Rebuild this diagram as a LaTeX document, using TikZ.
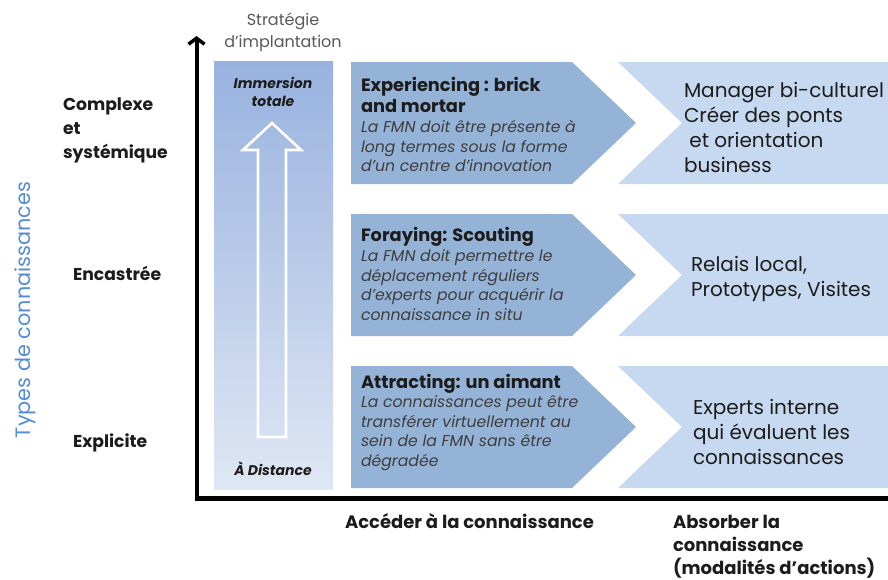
\documentclass[tikz,border=0pt]{standalone}
\usepackage{fontspec}
\setmainfont{Poppins}
\usetikzlibrary{arrows.meta}
\definecolor{midblue}{RGB}{149,179,215}
\definecolor{lightblue}{RGB}{198,217,240}
\definecolor{coltop}{RGB}{152,178,223}
\definecolor{colbot}{RGB}{223,231,244}
\definecolor{typeblue}{RGB}{84,141,212}
\definecolor{txtdark}{RGB}{28,28,28}
\definecolor{txtgrey}{RGB}{62,62,62}
\definecolor{stratgrey}{RGB}{88,88,88}
\begin{document}
\begin{tikzpicture}[x=1pt,y=-1pt,
  every node/.style={inner sep=0pt, outer sep=0pt},
  rowlbl/.style={anchor=north west, align=left, text=txtdark, font=\fontsize{17.2}{24}\selectfont\bfseries},
  boxtitle/.style={anchor=north west, align=left, text=txtdark, font=\fontsize{17.8}{20.5}\selectfont\bfseries},
  boxdesc/.style={anchor=north west, align=left, text=txtgrey, font=\fontsize{15.7}{19.5}\selectfont\itshape},
  righttxt/.style={anchor=north west, align=left, text=txtdark, font=\fontsize{20}{24.8}\selectfont},
  axislbl/.style={anchor=north west, align=left, text=txtdark, font=\fontsize{18}{23}\selectfont\bfseries},
  colin/.style={anchor=north, align=center, text=txtdark, font=\fontsize{14}{18}\selectfont\bfseries\itshape},
  midshape/.style={fill=midblue},
  rightshape/.style={fill=lightblue}
]
\useasboundingbox (0,0) rectangle (888,579);

% left column with gradient
\shade[top color=coltop, bottom color=colbot] (214,61) rectangle (333,489);
% hollow up arrow
\draw[white, line width=2.6pt, line join=miter]
  (258,437) -- (258,150) -- (243,150) -- (272,123) -- (301,150) -- (286,150) -- (286,437) -- cycle;
\node[colin] (imm) at (273,76) {\strut Immersion\\totale};
\node[colin] (dist) at (273,461.4) {\strut À Distance};

% strategy label
\node[anchor=north, align=center, text=stratgrey, font=\fontsize{16}{22}\selectfont] (strat) at (283,9.6) {\strut Stratégie\\d’implantation};

% middle and right shapes
\foreach \t/\m/\b in {62/123/184, 214/275/336, 366/427/488}{
  \fill[midshape] (351,\t) -- (572,\t) -- (636,\m) -- (572,\b) -- (351,\b) -- cycle;
  \fill[rightshape] (618,\t) -- (888,\t) -- (888,\b) -- (618,\b) -- (682,\m) -- cycle;
}

% middle texts
\node[boxtitle] (t1) at (361,77.6) {\strut Experiencing : brick\\and mortar};
\node[boxdesc] (d1) at (361,119.3) {\strut La FMN doit être présente à\\long termes sous la forme\\d’un centre d’innovation};
\node[boxtitle] (t2) at (361,227.6) {\strut Foraying: Scouting};
\node[boxdesc] (d2) at (361,248.3) {\strut La FMN doit permettre le\\déplacement réguliers\\d’experts pour acquérir la\\connaissance in situ};
\node[boxtitle] (t3) at (361,374.6) {\strut Attracting: un aimant};
\node[boxdesc] (d3) at (361,394.3) {\strut La connaissances peut être\\transférer virtuellement au\\sein de la FMN sans être\\dégradée};

% right texts
\node[righttxt] (r1) at (684,80.6) {\strut Manager bi-culturel\\Créer des ponts\\\ et orientation\\business};
\node[righttxt] (r2) at (691,254.6) {\strut Relais local,\\Prototypes, Visites};
\node[righttxt] (r3) at (693,397.6) {\strut Experts interne\\qui évaluent les\\connaissances};

% left labels
\node[rowlbl] (l1) at (63,93.2) {\strut Complexe\\et\\systémique};
\node[rowlbl] (l2) at (73,263.2) {\strut Encastrée};
\node[rowlbl] (l3) at (73,430.2) {\strut Explicite};
\node[rotate=90, text=typeblue, font=\fontsize{20.8}{26}\selectfont] (types) at (25,310) {Types de connaissances};

% axes
\coordinate (origin) at (196.5,498.5);
\coordinate (ytip) at (196.5,36);
\coordinate (xend) at (888,498.5);
\draw[line width=5.5pt] (xend) -- (origin);
\draw[line width=4pt, -{Straight Barb[length=6pt,width=16pt,line width=3.5pt]}] (196.5,501) -- (ytip);

% axis labels
\node[axislbl] (acc) at (345,511.9) {\strut Accéder à la connaissance};
\node[axislbl] (abs) at (673,511.9) {\strut Absorber la\\connaissance\\(modalités d’actions)};
\end{tikzpicture}
\end{document}
